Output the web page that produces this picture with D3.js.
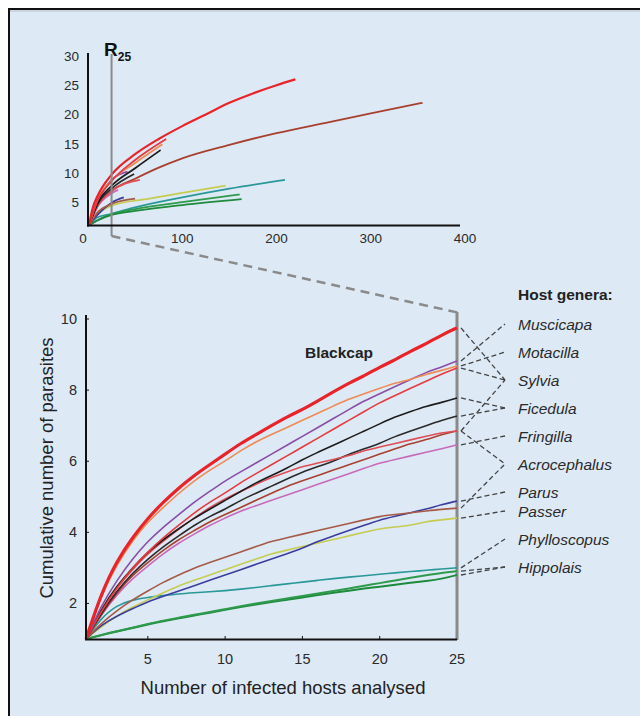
<!DOCTYPE html>
<html><head><meta charset="utf-8">
<script src="https://cdn.jsdelivr.net/npm/d3@7"></script>
<style>body{margin:0;background:#fff}svg{display:block;font-family:"Liberation Sans",Arial,sans-serif}</style>
</head><body><svg id="c" width="640" height="716"></svg>
<script>
// ---------- DATA ----------
const hosts = [1,2,3,4,5,6,7,8,9,10,11,12,13,14,15,16,17,18,19,20,21,22,23,24,25];
const blackcap = [1,2.3,3.2,3.85,4.4,4.85,5.25,5.6,5.9,6.2,6.5,6.75,7.0,7.25,7.45,7.7,7.95,8.2,8.4,8.65,8.85,9.1,9.3,9.55,9.75];
const orange   = [1,2.25,3.1,3.75,4.3,4.7,5.1,5.45,5.75,6.0,6.3,6.55,6.75,6.95,7.15,7.35,7.55,7.75,7.9,8.05,8.2,8.3,8.45,8.55,8.68];
const purple   = [1,1.95,2.65,3.25,3.75,4.15,4.5,4.85,5.15,5.45,5.7,5.95,6.2,6.45,6.7,6.95,7.2,7.45,7.7,7.9,8.1,8.3,8.5,8.65,8.82];
const red3     = [1,1.8,2.45,3.0,3.45,3.85,4.2,4.55,4.85,5.1,5.4,5.65,5.9,6.15,6.4,6.65,6.9,7.15,7.4,7.65,7.85,8.05,8.25,8.45,8.62];
const black1   = [1,1.85,2.5,3.0,3.45,3.8,4.1,4.4,4.65,4.9,5.15,5.4,5.6,5.8,6.05,6.25,6.45,6.65,6.85,7.05,7.25,7.4,7.55,7.65,7.78];
const red4     = [1,1.8,2.45,2.95,3.4,3.75,4.1,4.4,4.7,4.95,5.15,5.35,5.55,5.7,5.85,5.95,6.05,6.15,6.3,6.4,6.5,6.6,6.7,6.8,6.85];
const black2   = [1,1.75,2.35,2.85,3.25,3.6,3.9,4.2,4.45,4.65,4.9,5.1,5.3,5.5,5.7,5.85,6.0,6.2,6.35,6.5,6.7,6.85,7.0,7.15,7.27];
const brown2   = [1,1.7,2.3,2.8,3.15,3.5,3.8,4.05,4.3,4.5,4.7,4.9,5.1,5.3,5.45,5.6,5.75,5.9,6.05,6.2,6.35,6.5,6.6,6.75,6.85];
const pink     = [1,1.7,2.25,2.7,3.05,3.4,3.7,3.95,4.2,4.4,4.6,4.75,4.9,5.05,5.2,5.35,5.5,5.65,5.8,5.95,6.05,6.15,6.25,6.35,6.46];
const brown    = [1,1.45,1.8,2.1,2.35,2.6,2.8,3.0,3.15,3.3,3.45,3.6,3.75,3.85,3.95,4.05,4.15,4.25,4.35,4.45,4.5,4.55,4.6,4.65,4.68];
const yellow   = [1,1.35,1.65,1.9,2.1,2.3,2.5,2.65,2.8,2.95,3.1,3.25,3.4,3.5,3.6,3.7,3.8,3.9,4.0,4.1,4.15,4.2,4.3,4.35,4.4];
const blue     = [1,1.4,1.65,1.85,2.05,2.2,2.35,2.5,2.65,2.8,2.95,3.1,3.25,3.4,3.55,3.75,3.9,4.05,4.2,4.35,4.45,4.55,4.65,4.78,4.88];
const teal     = [1,1.6,1.95,2.1,2.17,2.22,2.27,2.3,2.33,2.36,2.4,2.45,2.5,2.55,2.6,2.65,2.7,2.74,2.78,2.82,2.86,2.9,2.93,2.97,3.0];
const green1   = [1,1.12,1.22,1.32,1.42,1.52,1.6,1.68,1.76,1.84,1.92,2.0,2.07,2.14,2.21,2.28,2.35,2.42,2.5,2.57,2.65,2.72,2.79,2.86,2.91];
const green2   = [1,1.11,1.21,1.31,1.41,1.5,1.58,1.66,1.74,1.82,1.9,1.97,2.04,2.1,2.17,2.24,2.3,2.36,2.42,2.47,2.53,2.58,2.63,2.69,2.8];

const genera = ["Muscicapa","Motacilla","Sylvia","Ficedula","Fringilla","Acrocephalus","Parus","Passer","Phylloscopus","Hippolais"];
// which genus label each curve connects to
const links = [["blackcap","Sylvia"],["purple","Muscicapa"],["orange","Motacilla"],["red3","Sylvia"],["black1","Ficedula"],["black2","Ficedula"],["brown2","Sylvia"],["red4","Acrocephalus"],["pink","Fringilla"],["blue","Parus"],["brown","Acrocephalus"],["yellow","Passer"],["teal","Phylloscopus"],["green1","Hippolais"],["green2","Hippolais"]];

// inset (full accumulation curves): [hosts, parasites]
const insetBlackcap = [[1,1],[5,4],[10,6],[25,9.7],[50,13.2],[75,15.8],[100,18],[125,20],[150,22],[175,23.6],[200,25],[220,26]];
const insetBrown2   = [[1,1],[10,4.3],[25,6.9],[50,9],[75,10.9],[100,12.5],[150,14.8],[200,16.8],[256,18.7],[300,20.2],[355,22]];
const insetRed3     = [[1,1],[10,5.2],[25,8.6],[50,12.2],[83,15.8]];
const insetOrange   = [[1,1],[10,5.4],[25,8.7],[50,11.7],[79,14.9]];
const insetBlack1   = [[1,1],[10,4.8],[25,7.8],[50,10.8],[77,13.9]];
const insetBlack2   = [[1,1],[10,4.6],[25,7.3],[49,9.8]];
const insetPurple   = [[1,1],[10,5],[25,8.8],[42,10.2]];
const insetRed4     = [[1,1],[10,4.3],[25,6.85],[55,8.8]];
const insetPink     = [[1,1],[10,4.2],[25,6.5],[32,7.1]];
const insetBrown    = [[1,1],[10,3.2],[25,4.7],[50,5.6]];
const insetYellow   = [[1,1],[10,2.9],[25,4.4],[65,5.6],[100,6.6],[146,7.8]];
const insetBlue     = [[1,1],[10,2.8],[25,4.9],[38,5.8]];
const insetTeal     = [[1,1],[10,2.4],[25,3.0],[50,4.1],[100,5.8],[150,7.3],[209,8.8]];
const insetGreen1   = [[1,1],[10,1.9],[25,2.9],[50,3.8],[100,5.0],[161,6.3]];
const insetGreen2   = [[1,1],[10,1.85],[25,2.8],[50,3.5],[100,4.5],[163,5.5]];

const yTicksMain = [2,4,6,8,10];
const xTicksMain = [5,10,15,20,25];
const yTicksInset = [5,10,15,20,25,30];
const xTicksInset = [0,100,200,300,400];

// ---------- STYLE ----------
const colors = {blackcap:"#e8232a",orange:"#ef8a55",purple:"#8a4ea6",red3:"#e53a40",black1:"#1c1c1c",red4:"#df4d55",black2:"#2a2a2a",brown2:"#a8402f",pink:"#c86ab8",brown:"#a65a46",yellow:"#c6cc52",blue:"#3b3d9e",teal:"#2a9898",green1:"#2e9a4c",green2:"#1e8a3c"};
const series = {blackcap,orange,purple,red3,black1,red4,black2,brown2,pink,brown,yellow,blue,teal,green1,green2};
const insetSeries = {brown2:insetBrown2,teal:insetTeal,green1:insetGreen1,green2:insetGreen2,yellow:insetYellow,blue:insetBlue,brown:insetBrown,pink:insetPink,red4:insetRed4,purple:insetPurple,black2:insetBlack2,black1:insetBlack1,orange:insetOrange,red3:insetRed3,blackcap:insetBlackcap};

const svg = d3.select("#c");
svg.append("rect").attr("x",8).attr("y",8).attr("width",632).attr("height",708).attr("fill","#dde9f5");
svg.append("line").attr("x1",8).attr("x2",640).attr("y1",9).attr("y2",9).attr("stroke","#111").attr("stroke-width",2);
svg.append("line").attr("x1",9).attr("x2",9).attr("y1",8).attr("y2",716).attr("stroke","#111").attr("stroke-width",2);
svg.append("line").attr("x1",10).attr("x2",640).attr("y1",11).attr("y2",11).attr("stroke","#b8c0c8").attr("stroke-width",1);

// ---------- INSET ----------
const xI = d3.scaleLinear().domain([0,400]).range([88,465]);
const yI = d3.scaleLinear().domain([1,30]).range([225.5,56]);
const gI = svg.append("g");
const lineI = d3.line().x(d=>xI(d[0])).y(d=>yI(d[1])).curve(d3.curveMonotoneX);
Object.entries(insetSeries).forEach(([k,pts])=>{
  gI.append("path").attr("d",lineI(pts)).attr("fill","none").attr("stroke",colors[k]).attr("stroke-width",k==="blackcap"?2.2:1.8);
});
// R25 line
gI.append("line").attr("x1",xI(25)).attr("x2",xI(25)).attr("y1",54).attr("y2",236).attr("stroke","#8a8a8a").attr("stroke-width",2);
gI.append("line").attr("x1",88).attr("x2",88).attr("y1",53).attr("y2",226.5).attr("stroke","#111").attr("stroke-width",2);
gI.append("line").attr("x1",87).attr("x2",460).attr("y1",225.5).attr("y2",225.5).attr("stroke","#111").attr("stroke-width",2);
yTicksInset.forEach(t=>{
  gI.append("text").attr("x",79).attr("y",yI(t)+5).attr("text-anchor","end").attr("font-size",13.5).attr("fill","#2a2a2a").text(t);
});
xTicksInset.forEach(t=>{
  gI.append("text").attr("x",t===0?83:xI(t)).attr("y",243).attr("text-anchor","middle").attr("font-size",13.5).attr("fill","#2a2a2a").text(t);
});
const rt = gI.append("text").attr("x",104).attr("y",56).attr("font-weight","bold").attr("font-size",19).attr("fill","#111");
rt.append("tspan").text("R");
rt.append("tspan").attr("font-size",12).attr("dy",5).text("25");

// ---------- MAIN ----------
const x = d3.scaleLinear().domain([1,25]).range([86,457]);
const y = d3.scaleLinear().domain([1,10]).range([639,319]);
const g = svg.append("g");
// dashed zoom connector
g.append("line").attr("x1",xI(25)).attr("y1",236).attr("x2",460).attr("y2",313).attr("stroke","#8a8a8a").attr("stroke-width",2.5).attr("stroke-dasharray","9,6");
// gray R25 line
g.append("line").attr("x1",x(25)).attr("x2",x(25)).attr("y1",312).attr("y2",640).attr("stroke","#8a8a8a").attr("stroke-width",3);

const line = d3.line().x((d,i)=>x(hosts[i])).y(d=>y(d)).curve(d3.curveBasis);
const order = ["green2","green1","teal","yellow","blue","brown","pink","brown2","black2","red4","black1","red3","purple","orange","blackcap"];
order.forEach(k=>{
  g.append("path").attr("d",line(series[k])).attr("fill","none").attr("stroke",colors[k]).attr("stroke-width",k==="blackcap"?3.2:(k.startsWith("green")?2:1.6));
});

// axes
g.append("line").attr("x1",86).attr("x2",86).attr("y1",315).attr("y2",640).attr("stroke","#111").attr("stroke-width",2);
g.append("line").attr("x1",85).attr("x2",457).attr("y1",639.5).attr("y2",639.5).attr("stroke","#111").attr("stroke-width",2);
yTicksMain.forEach(t=>{
  g.append("text").attr("x",77).attr("y",y(t)+5).attr("text-anchor","end").attr("font-size",14.5).attr("fill","#2a2a2a").text(t);
  g.append("line").attr("x1",86).attr("x2",89).attr("y1",y(t)).attr("y2",y(t)).attr("stroke","#111");
});
xTicksMain.forEach(t=>{
  g.append("text").attr("x",x(t)).attr("y",664).attr("text-anchor","middle").attr("font-size",14.5).attr("fill","#2a2a2a").text(t);
  if(t<25) g.append("line").attr("x1",x(t)).attr("x2",x(t)).attr("y1",639).attr("y2",636).attr("stroke","#111");
});
g.append("text").attr("transform","translate(53,468) rotate(-90)").attr("text-anchor","middle").attr("font-size",18.5).attr("fill","#222").text("Cumulative number of parasites");
g.append("text").attr("x",283).attr("y",694).attr("text-anchor","middle").attr("font-size",18.5).attr("fill","#222").text("Number of infected hosts analysed");
g.append("text").attr("x",305).attr("y",358).attr("font-weight","bold").attr("font-size",15.5).attr("fill","#222").text("Blackcap");

// legend
const labelPos = {Muscicapa:324,Motacilla:352,Sylvia:380,Ficedula:408,Fringilla:436,Acrocephalus:464,Parus:492,Passer:511,Phylloscopus:539,Hippolais:567};
svg.append("text").attr("x",518).attr("y",300).attr("font-weight","bold").attr("font-size",15.5).attr("fill","#222").text("Host genera:");
genera.forEach(gn=>{
  svg.append("text").attr("x",518).attr("y",labelPos[gn]+5.5).attr("font-style","italic").attr("font-size",15.5).attr("fill","#2a2a2a").text(gn);
});
links.forEach(([k,gn])=>{
  const v = series[k][series[k].length-1];
  svg.append("line").attr("x1",461).attr("y1",y(v)).attr("x2",505).attr("y2",labelPos[gn])
    .attr("stroke","#444").attr("stroke-width",1.3).attr("stroke-dasharray","5,3");
});
</script></body></html>
